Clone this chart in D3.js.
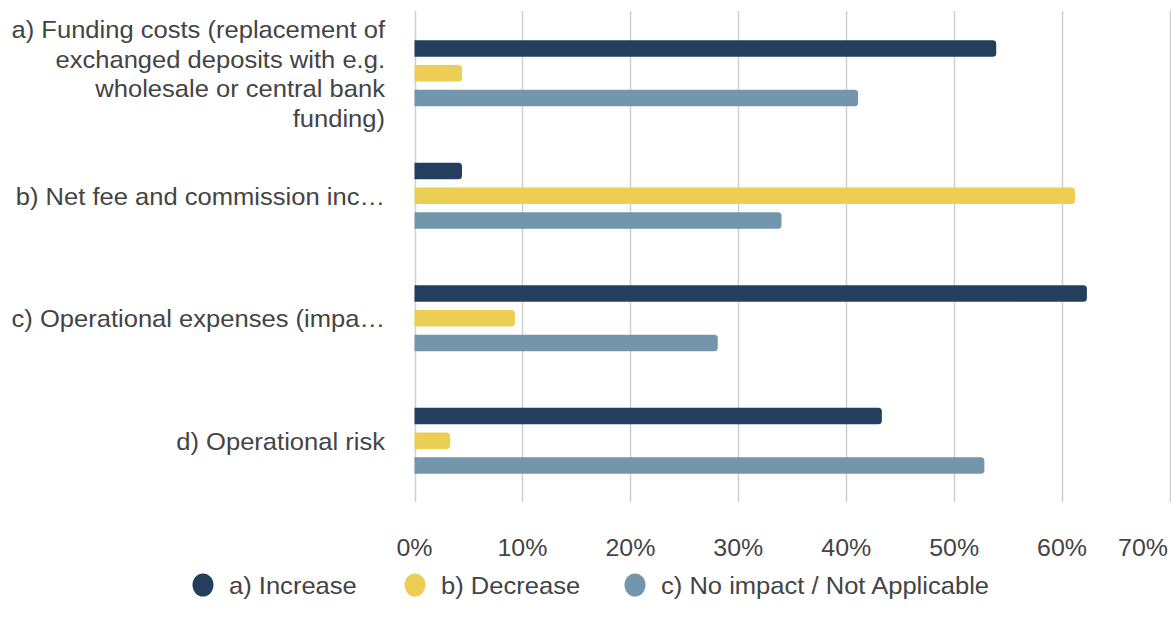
<!DOCTYPE html>
<html>
<head>
<meta charset="utf-8">
<script src="https://cdn.jsdelivr.net/npm/d3@7"></script>
<style>
  html, body { margin: 0; padding: 0; background: #fff; }
  svg { display: block; }
  text { font-family: "Liberation Sans", Arial, sans-serif; fill: #444; }
</style>
</head>
<body>
<svg id="chart" width="1171" height="628"></svg>
<script>
// ---- data ----
const categories = [
  ["a) Funding costs (replacement of", "exchanged deposits with e.g.", "wholesale or central bank", "funding)"],
  ["b) Net fee and commission inc…"],
  ["c) Operational expenses (impa…"],
  ["d) Operational risk"]
];
const seriesNames = ["a) Increase", "b) Decrease", "c) No impact / Not Applicable"];
const increaseValues = [0.539, 0.044, 0.623, 0.433];
const decreaseValues = [0.044, 0.612, 0.093, 0.033];
const noImpactValues = [0.411, 0.340, 0.281, 0.528];
const tickValues = [0, 0.1, 0.2, 0.3, 0.4, 0.5, 0.6, 0.7];
const colors = ["#243f5e", "#ecce55", "#7496ad"];

const series = [increaseValues, decreaseValues, noImpactValues];

// ---- layout ----
const svg = d3.select("#chart");
const plot = { left: 414.5, right: 1170, top: 12, bottom: 502 };
const FS = 24, SX = 1.065;

const x = d3.scaleLinear().domain([0, 0.7]).range([plot.left, plot.right]);
const y = d3.scaleBand().domain(d3.range(categories.length)).range([plot.top, plot.bottom]);
const inner = d3.scaleBand().domain(d3.range(series.length))
  .range([y.bandwidth() / 2 - 33, y.bandwidth() / 2 + 33]).paddingInner(0.333);

// gridlines
svg.append("g").selectAll("line").data(tickValues).join("line")
  .attr("x1", d => Math.round(x(d)) + 0.5).attr("x2", d => Math.round(x(d)) + 0.5)
  .attr("y1", plot.top - 1).attr("y2", plot.bottom)
  .attr("stroke", "#d0d0d0").attr("stroke-width", 1.5);

// bars with rounded right end
function barPath(x0, x1, y0, h, r) {
  const w = x1 - x0;
  r = Math.min(r, w / 2, h / 2);
  return `M${x0},${y0}H${x1 - r}Q${x1},${y0} ${x1},${y0 + r}V${y0 + h - r}Q${x1},${y0 + h} ${x1 - r},${y0 + h}H${x0}Z`;
}
const barData = [];
categories.forEach((c, ci) => series.forEach((s, si) => barData.push({ ci, si, v: s[ci] })));
svg.append("g").selectAll("path").data(barData).join("path")
  .attr("d", d => barPath(x(0), x(d.v), y(d.ci) + inner(d.si), inner.bandwidth(), 3.5))
  .attr("fill", d => colors[d.si]);

// helper for horizontally stretched text
function stext(g, tx, ty, str, anchor, sx) {
  return g.append("text")
    .attr("transform", `translate(${tx},${ty}) scale(${sx},1)`)
    .attr("text-anchor", anchor).attr("font-size", FS).text(str);
}

// category labels
const catG = svg.append("g");
categories.forEach((lines, ci) => {
  const lh = 29.5;
  const cy = y(ci) + y.bandwidth() / 2;
  lines.forEach((ln, li) => {
    stext(catG, 385, cy + (li - (lines.length - 1) / 2) * lh + 9, ln, "end", SX);
  });
});

// x axis tick labels
const xAxis = svg.append("g");
tickValues.forEach(d => {
  const last = d === tickValues[tickValues.length - 1];
  stext(xAxis, last ? 1168 : x(d), 556, d3.format(".0%")(d), last ? "end" : "middle", 1.04);
});

// legend
const legendX = [203, 415, 635];
const lg = svg.append("g");
seriesNames.forEach((name, i) => {
  lg.append("ellipse").attr("cx", legendX[i]).attr("cy", 585)
    .attr("rx", 10.5).attr("ry", 11.5).attr("fill", colors[i]);
  stext(lg, legendX[i] + 26, 594, name, "start", SX);
});
</script>
</body>
</html>
